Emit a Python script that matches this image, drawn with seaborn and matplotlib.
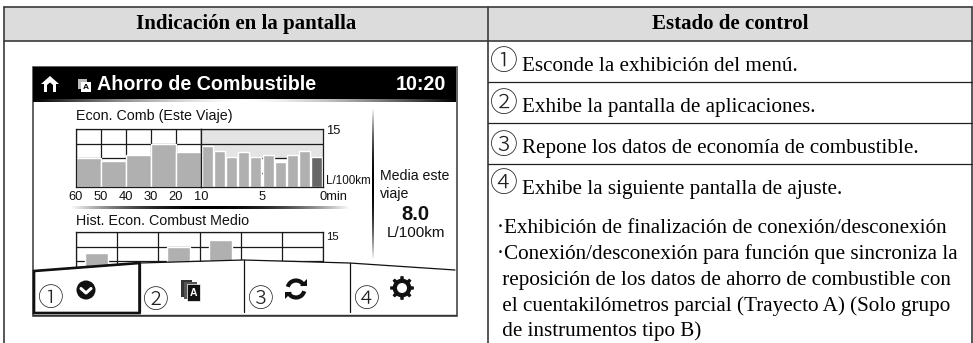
import numpy as np
import matplotlib
matplotlib.use("Agg")
import matplotlib.pyplot as plt
from matplotlib.patches import Polygon, Rectangle, Circle, Arc
import seaborn as sns

# values (L/100km)
wide_minutes = ["60", "50", "40", "30", "20"]
wide_values = [7.6, 6.6, 8.4, 11.1, 9.0]
narrow_minutes = ["10", "9", "8", "7", "6", "5", "4", "3", "2", "1"]
narrow_values = [10.5, 9.3, 7.7, 9.0, 7.7, 8.4, 6.4, 8.2, 9.3, 7.7]
wide_ticks = ["60", "50", "40", "30", "20", "10"]
hist_cells = ["a", "b", "c", "d", "e", "f"]
hist_values = [9.6, 0, 11.0, 12.9, 0, 0]

header_labels = ["Indicación en la pantalla", "Estado de control"]
control_rows = ["Esconde la exhibición del menú.",
                "Exhibe la pantalla de aplicaciones.",
                "Repone los datos de economía de combustible.",
                "Exhibe la siguiente pantalla de ajuste."]
circled = ["①", "②", "③", "④"]
bullet_lines = ["·Exhibición de finalización de conexión/desconexión",
                "·Conexión/desconexión para función que sincroniza la",
                " reposición de los datos de ahorro de combustible con",
                " el cuentakilómetros parcial (Trayecto A) (Solo grupo",
                " de instrumentos tipo B)"]

W, H = 973, 343
SERIF = "Liberation Serif"
SANS = "Liberation Sans"
CJK = "Noto Sans CJK JP"
LINE = "#3a3a3a"
BAR = "#b0b0b0"
TICK = 9.3

sns.set_theme(style="white")
plt.rcParams["font.family"] = [SANS, "DejaVu Sans"]

fig = plt.figure(figsize=(W / 100, H / 100), dpi=100, facecolor="white")


def px_axes(left, top, right, bottom, z=1):
    a = fig.add_axes([left / W, 1 - bottom / H, (right - left) / W, (bottom - top) / H])
    a.set_zorder(z)
    return a


# page layer, coordinates are image pixels
base = px_axes(0, 0, W, H, 0)
base.set_xlim(0, W)
base.set_ylim(H, 0)
base.axis("off")

base.add_patch(Rectangle((4, 7), 968, 34, fc="#dcdcdc", ec="none"))
base.plot([4, 972], [7, 7], color=LINE, lw=1.2)
base.plot([4, 972], [41, 41], color=LINE, lw=1.2)
for x in [4, 488, 972]:
    base.plot([x, x], [7, H], color=LINE, lw=1.2)
for y in [82, 123, 164]:
    base.plot([488, 972], [y, y], color="#222222", lw=0.9)
base.text(246, 24, header_labels[0], family=SERIF, weight="bold", fontsize=15.1, ha="center", va="center", color="black")
base.text(730, 24, header_labels[1], family=SERIF, weight="bold", fontsize=15.1, ha="center", va="center", color="black")

for label, mark, y_mark, y_text in zip(control_rows, circled, [62, 104, 146, 184], [70.7, 111.7, 153, 194.3]):
    base.text(504, y_mark, mark, family=CJK, fontsize=20, fontweight="light", ha="center", va="center", color="#222222")
    base.text(522, y_text, label, family=SERIF, fontsize=15.2, ha="left", va="baseline", color="black")
for line, y in zip(bullet_lines, [233, 259, 285, 310.7, 335.7]):
    base.text(497, y, line, family=SERIF, fontsize=15.2, ha="left", va="baseline", color="black")

# screen frame and title bar
base.add_patch(Rectangle((32.5, 66.5), 424, 249.5, fc="white", ec="#555555", lw=1.3))
base.add_patch(Rectangle((33, 67), 423, 33, fc="black", ec="none"))
fade = np.abs(np.linspace(-1, 1, 256))[None, :] ** 1.5
base.imshow(fade, extent=(33, 456, 102.5, 100), cmap="gray_r", vmin=0, vmax=1, aspect="auto", zorder=2)
base.set_xlim(0, W)
base.set_ylim(H, 0)

# home icon
base.add_patch(Polygon([[41, 84], [50, 76], [59, 84], [56, 84], [56, 92], [44, 92], [44, 84]], fc="white", ec="none", zorder=3))
base.add_patch(Polygon([[47, 85], [50, 82.5], [53, 85], [53, 92], [47, 92]], fc="black", ec="none", zorder=4))
# app icon in the title bar
base.add_patch(Rectangle((78, 79), 9, 10, fc="#bbbbbb", ec="none", zorder=3))
base.add_patch(Rectangle((81, 82), 10, 10, fc="white", ec="none", zorder=3))
base.text(86, 87.3, "A", fontsize=6, weight="bold", ha="center", va="center", color="black", zorder=4)

base.text(97, 85, "Ahorro de Combustible", weight="bold", fontsize=14.2, ha="left", va="center", color="white", zorder=4)
base.text(446, 85, "10:20", weight="bold", fontsize=14.2, ha="right", va="center", color="white", zorder=4)

base.text(76, 116, "Econ. Comb (Este Viaje)", fontsize=10.3, ha="left", va="center", color="#111111")
base.text(76, 221, "Hist. Econ. Combust Medio", fontsize=10.3, ha="left", va="center", color="#111111")
base.text(380, 176, "Media este", fontsize=10.2, ha="left", va="center", color="#111111")
base.text(380, 194, "viaje", fontsize=10.2, ha="left", va="center", color="#111111")
base.text(415, 215, "8.0", fontsize=14.6, weight="bold", ha="center", va="center", color="#111111")
base.text(416, 233, "L/100km", fontsize=11, ha="center", va="center", color="#111111")

# fading separators
glow = 1 - np.abs(np.linspace(-1, 1, 256)) ** 2
base.imshow(glow[:, None], extent=(372, 374, 260, 108), cmap="gray_r", vmin=0, vmax=1, aspect="auto", zorder=2)
base.imshow(glow[None, :], extent=(70, 350, 209, 206), cmap="gray_r", vmin=0, vmax=1, aspect="auto", zorder=2)
base.set_xlim(0, W)
base.set_ylim(H, 0)


def style_chart(a, n, edges):
    a.set_xlim(-0.5, n - 0.5)
    a.set_ylim(0, 15)
    a.set_yticks([0, 3.75, 7.5, 11.25, 15])
    a.set_yticklabels([])
    a.set_xticks(edges)
    a.set_xticklabels([])
    a.set_xlabel("")
    a.set_ylabel("")
    a.tick_params(length=0)
    a.set_axisbelow(True)
    a.grid(True, axis="y", color="#1a1a1a", lw=0.9)
    for s in a.spines.values():
        s.set_visible(True)
        s.set_color("#1a1a1a")
        s.set_linewidth(0.9)


# last hour, wide bars
ax_wide = px_axes(76, 129, 201, 187, 1)
sns.barplot(x=wide_minutes, y=wide_values, color=BAR, saturation=1, width=1.0, ax=ax_wide)
style_chart(ax_wide, len(wide_minutes), np.arange(len(wide_ticks)) - 0.5)
ax_wide.grid(True, axis="x", color="#1a1a1a", lw=0.9)
ax_wide.set_xticklabels(wide_ticks, fontsize=TICK, color="#111111")
ax_wide.tick_params(axis="x", pad=3.2)

# last ten minutes, narrow bars
ax_narrow = px_axes(201, 129, 323, 187, 1)
ax_narrow.axhspan(7.5, 15, color="#e4e4e4", zorder=0)
sns.barplot(x=narrow_minutes, y=narrow_values, hue=narrow_minutes,
            palette=[BAR] * 9 + ["#666666"], legend=False, saturation=1, width=0.9, ax=ax_narrow)
style_chart(ax_narrow, len(narrow_minutes), [4.5])
ax_narrow.set_xticklabels(["5"], fontsize=TICK, color="#111111")
ax_narrow.tick_params(axis="x", pad=3.2)
ax_narrow.annotate("0min", xy=(1, 0), xycoords="axes fraction", xytext=(-3, -10), textcoords="offset pixels",
                   fontsize=TICK, ha="left", va="center", color="#111111", annotation_clip=False)
ax_narrow.yaxis.tick_right()
ax_narrow.set_yticklabels(["L/100km", "", "", "", "15"], fontsize=8.4, color="#111111")
ax_narrow.tick_params(axis="y", pad=2)
ax_narrow.get_yticklabels()[0].set_va("bottom")
ax_narrow.get_yticklabels()[4].set_fontsize(9.4)

# history chart, its lower part sits under the tab bar
ax_hist = px_axes(76, 232, 323, 290, 1)
sns.barplot(x=hist_cells, y=hist_values, color=BAR, saturation=1, width=0.56, ax=ax_hist)
style_chart(ax_hist, len(hist_cells), np.arange(len(hist_cells) + 1) - 0.5)
ax_hist.grid(True, axis="x", color="#1a1a1a", lw=0.9)
ax_hist.yaxis.tick_right()
ax_hist.set_yticklabels(["", "", "", "", "15"], fontsize=8.2, color="#111111")
ax_hist.tick_params(axis="y", pad=2)
ax_hist.get_yticklabels()[4].set_va("top")

# tab bar on top of the charts
top = px_axes(0, 0, W, H, 5)
top.set_xlim(0, W)
top.set_ylim(H, 0)
top.axis("off")
top.patch.set_alpha(0)

tab_x = [34, 140, 243.5, 349.5, 455]
tab_y = [271, 263, 260, 263, 270]
top.add_patch(Polygon(list(zip(tab_x, tab_y)) + [[455, 315], [34, 315]], fc="white", ec="none"))
top.plot(tab_x, tab_y, color="#111111", lw=0.9)
top.plot([33, 456], [315, 315], color="#333333", lw=1.0)
for x, y in zip(tab_x[1:4], tab_y[1:4]):
    top.plot([x, x], [y, 312], color="#111111", lw=0.9)
top.add_patch(Polygon([[34, 271], [139.5, 263], [139.5, 313], [34, 313]], fc="none", ec="#111111", lw=1.9))

for mark, x, y in zip(circled, [51, 156, 261, 367], [299, 301, 300, 300]):
    top.text(x, y, mark, family=CJK, fontsize=18.5, fontweight="light", ha="center", va="center", color="#222222")

# tab icons
top.add_patch(Circle((86, 290), 9.5, fc="#111111", ec="none"))
top.plot([81, 86, 91], [288.5, 293, 288.5], color="white", lw=2.2, solid_capstyle="round")
top.add_patch(Rectangle((181, 280), 11, 17, fc="#333333", ec="none"))
top.add_patch(Rectangle((184, 282), 13, 17, fc="#555555", ec="none"))
top.add_patch(Rectangle((187, 284), 13, 17, fc="#111111", ec="white", lw=0.5))
top.text(193.5, 292.5, "A", fontsize=7.5, weight="bold", ha="center", va="center", color="white")
top.add_patch(Arc((296, 289), 17, 17, theta1=195, theta2=335, ec="#111111", lw=3))
top.add_patch(Arc((296, 289), 17, 17, theta1=15, theta2=155, ec="#111111", lw=3))
top.add_patch(Polygon([[300, 286], [307, 286], [307, 279]], fc="#111111", ec="none"))
top.add_patch(Polygon([[292, 292], [285, 292], [285, 299]], fc="#111111", ec="none"))

angles = np.linspace(0, 2 * np.pi, 97)
radii = 9.3 + 2.6 * (np.cos(8 * angles) > 0.1)
top.add_patch(Polygon(np.c_[402 + radii * np.cos(angles), 288 + radii * np.sin(angles)], fc="#111111", ec="none"))
top.add_patch(Circle((402, 288), 5, fc="white", ec="none"))

fig.savefig("out.png", dpi=100)
